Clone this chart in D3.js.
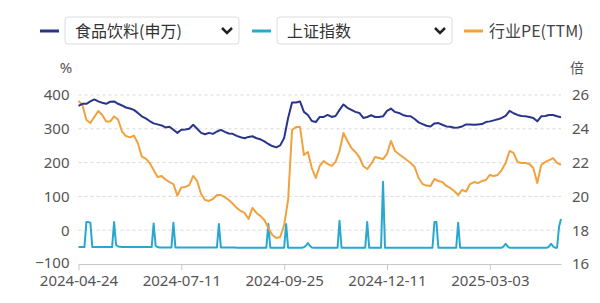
<!DOCTYPE html>
<html>
<head>
<meta charset="utf-8">
<script src="https://cdn.jsdelivr.net/npm/d3@7"></script>
<style>
  body { margin: 0; background: #fff; }
  svg { display: block; font-family: "Noto Sans", "Noto Sans CJK SC", sans-serif; }
</style>
</head>
<body>
<div id="chart"></div>
<script>
// x axis: trading-day index, ticks every 52 sessions
const xTickLabels = ["2024-04-24", "2024-07-11", "2024-09-25", "2024-12-11", "2025-03-03"]
const xTickStep = 52
const nDays = 245

// 食品饮料(申万), %, sampled every 2 sessions
const foodBev = [368, 374, 374, 381, 387, 381, 377, 374, 380, 381, 374, 369, 363, 360, 356, 347, 337, 331, 323, 316,
  313, 310, 304, 306, 297, 288, 297, 298, 300, 312, 300, 288, 284, 288, 285, 292, 297, 291, 286, 285,
  279, 275, 272, 276, 278, 272, 269, 263, 255, 249, 245, 251, 273, 332, 378, 378, 381, 350, 341, 323,
  320, 335, 335, 341, 335, 338, 356, 372, 362, 356, 350, 347, 332, 335, 340, 335, 335, 337, 353, 360,
  350, 347, 341, 338, 337, 329, 319, 314, 309, 307, 316, 317, 312, 307, 306, 303, 304, 307, 313, 313,
  312, 313, 314, 320, 322, 325, 328, 332, 338, 353, 346, 341, 338, 337, 335, 332, 322, 337, 338, 341,
  341, 337, 334]

// 行业PE(TTM), 倍, sampled every 2 sessions
const industryPE = [25.64, 25.41, 24.52, 24.34, 24.70, 25.05, 24.82, 24.43, 24.43, 24.73, 24.55, 23.84, 23.57, 23.49, 23.60, 23.16, 22.36, 22.24, 21.98, 21.56,
  21.15, 21.21, 21.00, 20.85, 20.73, 20.05, 20.53, 20.56, 20.67, 21.21, 20.91, 20.14, 19.79, 19.73, 19.85, 20.08, 20.08, 19.96, 19.79, 19.56,
  19.32, 19.14, 19.02, 18.67, 19.32, 19.02, 18.84, 18.60, 18.13, 17.72, 17.54, 17.60, 18.31, 19.79, 23.93, 24.11, 24.11, 22.45, 22.63, 21.68,
  21.09, 21.80, 22.09, 21.92, 21.80, 22.04, 22.69, 23.75, 23.28, 22.86, 22.63, 22.33, 21.80, 21.62, 21.92, 22.33, 22.27, 22.21, 22.51, 23.28,
  22.69, 22.51, 22.33, 22.15, 21.98, 21.74, 21.09, 20.73, 20.64, 20.62, 21.03, 20.91, 20.85, 20.62, 20.50, 20.32, 20.08, 20.38, 20.29, 20.73,
  20.85, 20.79, 20.91, 20.97, 21.27, 21.21, 21.27, 21.56, 21.98, 22.69, 22.57, 22.04, 21.98, 21.98, 21.92, 21.68, 20.79, 21.86, 22.04, 22.15,
  22.27, 21.98, 21.86]

// 上证指数, %, every session
const shIndex = [
  -50, -50, -50, -50, 24, 24, 22, -50, -50, -50,
  -50, -50, -50, -50, -50, -50, -50, -50, 24, -43,
  -48, -49, -50, -50, -50, -50, -50, -50, -50, -50,
  -50, -50, -50, -50, -50, -50, -50, -50, 20, -46,
  -50, -51, -51, -51, -51, -51, -51, -51, 22, -51,
  -51, -51, -51, -51, -51, -51, -51, -51, -51, -51,
  -51, -51, -51, -51, -51, -51, -51, -51, -51, -51,
  -51, 18, -51, -51, -51, -51, -51, -51, -51, -51,
  -52, -52, -52, -52, -52, -52, -52, -52, -52, -52,
  -52, -52, -52, -52, -52, -52, 18, -52, -52, -52,
  -52, -52, -52, -52, -52, 18, -52, -52, -52, -52,
  -52, -52, -52, -52, -50, -46, -38, -46, -51, -52,
  -52, -52, -52, -52, -52, -52, -52, -52, -52, -52,
  -52, -52, 28, -52, -52, -52, -52, -52, -52, -52,
  -52, -52, -52, -52, -52, -52, 24, -52, -52, -52,
  -52, -52, -52, -52, 143, -52, -52, -52, -52, -52,
  -52, -52, -52, -52, -52, -52, -52, -52, -52, -52,
  -52, -52, -52, -52, -52, -52, -52, -52, -52, -52,
  24, 24, -52, -52, -52, -52, -52, -52, -52, -52,
  -52, -52, 22, -52, -52, -52, -52, -52, -52, -52,
  -52, -52, -52, -52, -52, -52, -52, -52, -52, -52,
  -52, -52, -52, -52, -52, -48, -40, -48, -52, -52,
  -52, -52, -52, -52, -52, -52, -52, -52, -52, -52,
  -52, -52, -52, -52, -52, -52, -52, -52, -48, -40,
  -48, -52, -52, 10, 33]

const leftTicks = [-100, 0, 100, 200, 300, 400]
const rightTicks = [16, 18, 20, 22, 24, 26]

const colors = { food: "#28358a", sh: "#2aa7cf", pe: "#f0a23e" }

const width = 600, height = 303
const margin = { top: 95, right: 39, bottom: 39, left: 78.5 }

const svg = d3.select("#chart").append("svg")
  .attr("width", width)
  .attr("height", height)

const x = d3.scaleLinear().domain([0, nDays - 1]).range([margin.left, width - margin.right])
const yL = d3.scaleLinear().domain([-100, 400]).range([height - margin.bottom, margin.top])
const yR = d3.scaleLinear().domain([16, 26]).range([height - margin.bottom, margin.top])

// grid
svg.append("g")
  .selectAll("line")
  .data(leftTicks.filter(d => d > -100))
  .join("line")
  .attr("x1", margin.left).attr("x2", width - margin.right)
  .attr("y1", d => yL(d)).attr("y2", d => yL(d))
  .attr("stroke", "#d9d9d9")
  .attr("stroke-dasharray", "3,3")

// left axis
svg.append("g")
  .attr("transform", `translate(${margin.left},0)`)
  .call(d3.axisLeft(yL).tickValues(leftTicks).tickSize(0).tickPadding(9))
  .call(g => g.select(".domain").remove())
  .call(g => g.selectAll("text").attr("font-size", 15).attr("fill", "#555").attr("font-family", "Noto Sans"))
  .call(g => g.selectAll(".tick text").filter(d => d === -100).attr("dy", "0.2em"))

// right axis
svg.append("g")
  .attr("transform", `translate(${width - margin.right},0)`)
  .call(d3.axisRight(yR).tickValues(rightTicks).tickSize(0).tickPadding(11))
  .call(g => g.select(".domain").remove())
  .call(g => g.selectAll("text").attr("font-size", 15).attr("fill", "#555").attr("font-family", "Noto Sans"))

// bottom axis
svg.append("g")
  .attr("transform", `translate(0,${height - margin.bottom})`)
  .call(d3.axisBottom(x)
    .tickValues(xTickLabels.map((d, i) => i * xTickStep))
    .tickFormat((d, i) => xTickLabels[i])
    .tickSize(6).tickSizeOuter(0).tickPadding(5))
  .call(g => g.select(".domain").attr("stroke", "#c8c8c8"))
  .call(g => g.selectAll(".tick line").attr("stroke", "#c8c8c8"))
  .call(g => g.selectAll("text").attr("font-size", 15).attr("fill", "#555").attr("font-family", "Noto Sans"))

// unit labels
svg.append("text").attr("x", 66).attr("y", 73).attr("text-anchor", "middle")
  .attr("font-size", 15).attr("fill", "#555").text("%")
svg.append("text").attr("x", 577).attr("y", 73).attr("text-anchor", "middle")
  .attr("font-family", "Noto Sans CJK SC").attr("font-size", 14).attr("fill", "#555").text("倍")

// lines
const lineL2 = d3.line().x((d, i) => x(i * 2)).y(d => yL(d))
const lineR2 = d3.line().x((d, i) => x(i * 2)).y(d => yR(d))
const lineL1 = d3.line().x((d, i) => x(i)).y(d => yL(d))

svg.append("path").datum(shIndex)
  .attr("fill", "none").attr("stroke", colors.sh).attr("stroke-width", 2)
  .attr("stroke-linejoin", "round").attr("d", lineL1)

svg.append("path").datum(industryPE)
  .attr("fill", "none").attr("stroke", colors.pe).attr("stroke-width", 2)
  .attr("stroke-linejoin", "round").attr("d", lineR2)

svg.append("path").datum(foodBev)
  .attr("fill", "none").attr("stroke", colors.food).attr("stroke-width", 2)
  .attr("stroke-linejoin", "round").attr("d", lineL2)

// legend
const legend = [
  { name: "食品饮料(申万)", color: colors.food, x: 40, box: 174 },
  { name: "上证指数", color: colors.sh, x: 252, box: 175 },
  { name: "行业PE(TTM)", color: colors.pe, x: 464, box: 0 }
]

const lg = svg.append("g").attr("font-family", "Noto Sans CJK SC")
legend.forEach(d => {
  const g = lg.append("g").attr("transform", `translate(${d.x},31)`)
  g.append("line").attr("x1", 0).attr("x2", 19).attr("stroke", d.color).attr("stroke-width", 3)
  if (d.box) {
    g.append("rect").attr("x", 25).attr("y", -14).attr("width", d.box).attr("height", 27)
      .attr("rx", 3).attr("fill", "#fff").attr("stroke", "#dcdcdc")
    g.append("text").attr("x", 35).attr("y", 0).attr("dy", "0.35em")
      .attr("font-size", 16).attr("fill", "#333").text(d.name)
    const cx = 25 + d.box - 12
    g.append("path").attr("d", `M${cx - 5},-3L${cx},2L${cx + 5},-3`)
      .attr("fill", "none").attr("stroke", "#222").attr("stroke-width", 2.5)
  } else {
    g.append("text").attr("x", 25).attr("y", 0).attr("dy", "0.35em")
      .attr("font-size", 16).attr("fill", "#444").text(d.name)
  }
})
</script>
</body>
</html>
